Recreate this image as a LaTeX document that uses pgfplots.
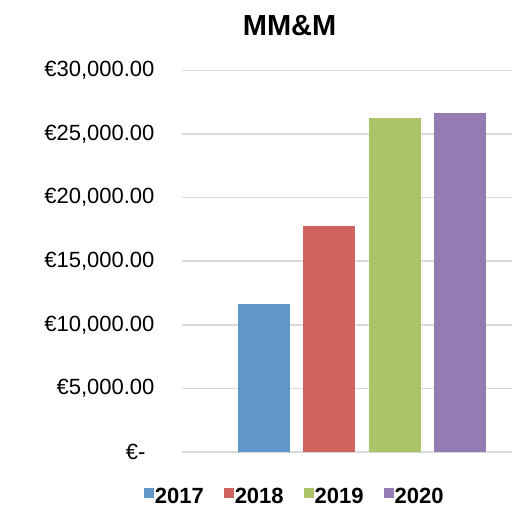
\documentclass[border=0pt]{standalone}
\usepackage{pgfplots}
\pgfplotsset{compat=1.18}
\usepackage{fontspec}
\setmainfont{Liberation Sans}
\definecolor{c17}{HTML}{6096CA}
\definecolor{c18}{HTML}{CF645C}
\definecolor{c19}{HTML}{ABC46A}
\definecolor{c20}{HTML}{947CB2}
\definecolor{gridc}{HTML}{D9D9D9}
\begin{document}
\begin{tikzpicture}[x=1pt,y=1pt]
\useasboundingbox (0,0) rectangle (512,508);
\begin{axis}[
  at={(182pt,56pt)}, anchor=south west,
  scale only axis, width=330pt, height=381.5pt,
  xmin=-0.256, xmax=4.80, ymin=0, ymax=30000,
  axis line style={draw=none},
  major tick length=0pt,
  xtick=\empty,
  scaled y ticks=false,
  ytick={0,5000,10000,15000,20000,25000,30000},
  yticklabels={{€-\kern9pt},{€5,000.00},{€10,000.00},{€15,000.00},{€20,000.00},{€25,000.00},{€30,000.00}},
  yticklabel style={font=\fontsize{22}{26}\selectfont, xshift=-24pt},
  ymajorgrids, grid style={gridc, line width=1.6pt},
  ybar, bar width=52pt, bar shift=0pt,
  title={\textbf{MM\&M}},
  title style={font=\fontsize{29}{33}\selectfont, at={(0.326,1)}, yshift=25pt},
  legend columns=4,
  legend style={draw=none, inner sep=0pt, font=\bfseries\fontsize{22}{26}\selectfont,
    at={(0.34,-0.118)}, anchor=center,
    nodes={inner sep=1pt},
    /tikz/every even column/.append style={column sep=19pt}},
  legend image code/.code={\fill[#1] (2pt,-1pt) rectangle (12pt,9pt);},
]
\addplot[fill=c17, draw=none] coordinates {(1,11640)};
\addlegendentry{2017}
\addplot[fill=c18, draw=none] coordinates {(2,17770)};
\addlegendentry{2018}
\addplot[fill=c19, draw=none] coordinates {(3,26260)};
\addlegendentry{2019}
\addplot[fill=c20, draw=none] coordinates {(4,26660)};
\addlegendentry{2020}
\end{axis}
\end{tikzpicture}
\end{document}
